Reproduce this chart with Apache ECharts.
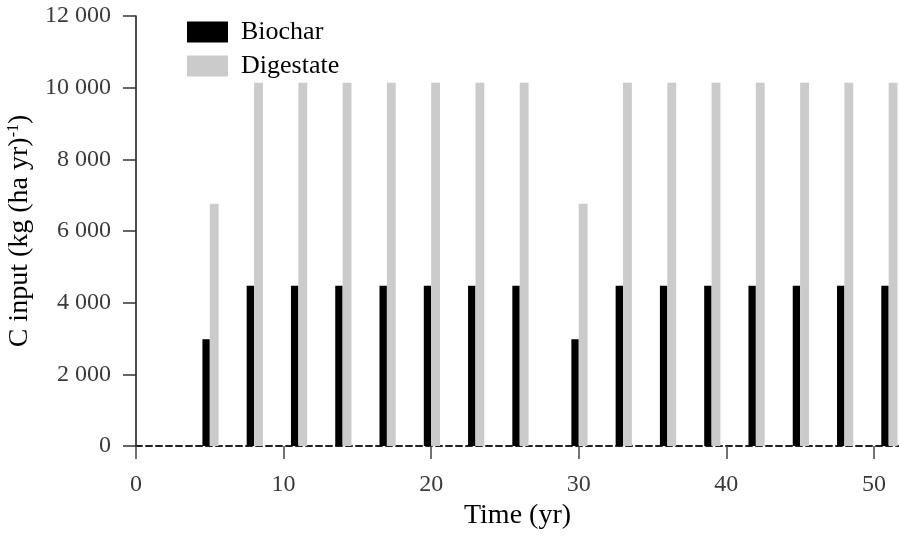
<!DOCTYPE html>
<html lang="en">
<head>
    <meta charset="UTF-8">
    <title>C input</title>
    <style>
        html, body { margin: 0; padding: 0; background: #fff; }
        #chart { width: 899px; height: 536px; }
    </style>
    <script src="https://cdn.jsdelivr.net/npm/echarts@6/dist/echarts.min.js"></script>
</head>
<body>
<div id="chart"></div>
<script>
    // 数据
    var years = [5, 8, 11, 14, 17, 20, 23, 26, 30, 33, 36, 39, 42, 45, 48, 51];
    var biochar = [2980, 4470, 4470, 4470, 4470, 4470, 4470, 4470,
                   2980, 4470, 4470, 4470, 4470, 4470, 4470, 4470];
    var digestate = [6760, 10140, 10140, 10140, 10140, 10140, 10140, 10140,
                     6760, 10140, 10140, 10140, 10140, 10140, 10140, 10140];
    var xTicks = [0, 10, 20, 30, 40, 50];

    var biocharData = [];
    var digestateData = [];
    for (var i = 0; i < years.length; i++) {
        biocharData.push([years[i], biochar[i]]);
        digestateData.push([years[i], digestate[i]]);
    }

    // 柱子：从 x+offset 到 x+offset+width（单位：年）
    function barItem(offset, width) {
        return function (params, api) {
            var x = api.value(0), v = api.value(1);
            var p1 = api.coord([x + offset, v]);
            var p2 = api.coord([x + offset + width, 0]);
            return {
                type: 'rect',
                shape: { x: p1[0], y: p1[1], width: p2[0] - p1[0], height: p2[1] - p1[1] },
                style: { fill: api.visual('color') }
            };
        };
    }

    function fmtY(v) {
        if (v < 1000) return String(v);
        var k = Math.floor(v / 1000), r = String(v % 1000);
        while (r.length < 3) r = '0' + r;
        return k + ' ' + r;
    }

    var font = 'Liberation Serif';
    var chart = echarts.init(document.getElementById('chart'));
    var option = {
        animation: false,
        textStyle: { fontFamily: font },
        grid: { left: 136, right: 0, top: 16, bottom: 90, containLabel: false, outerBoundsMode: 'none' },
        legend: {
            orient: 'vertical',
            left: 187,
            top: 19,
            padding: 0,
            itemWidth: 41,
            itemHeight: 21,
            itemGap: 8,
            textStyle: { fontFamily: font, fontSize: 26, color: '#000', padding: [0, 0, 0, 8] },
            data: [{ name: 'Biochar', icon: 'rect' }, { name: 'Digestate', icon: 'rect' }]
        },
        xAxis: {
            type: 'value',
            min: 0,
            max: 51.7,
            name: 'Time (yr)',
            nameLocation: 'middle',
            nameGap: 56,
            nameTextStyle: { fontFamily: font, fontSize: 28, color: '#000' },
            splitLine: { show: false },
            axisLine: { onZero: true, lineStyle: { type: [6, 4], color: '#222', width: 2 } },
            axisTick: { length: 13, customValues: xTicks, lineStyle: { color: '#444', width: 1.5 } },
            axisLabel: { customValues: xTicks, margin: 27, fontFamily: font, fontSize: 24, color: '#3a3a3a' }
        },
        yAxis: {
            type: 'value',
            min: 0,
            max: 12000,
            interval: 2000,
            name: 'C input (kg (ha yr){sup|-1})',
            nameLocation: 'middle',
            nameGap: 101,
            nameTextStyle: {
                fontFamily: font, fontSize: 28, color: '#000',
                rich: { sup: { fontFamily: font, fontSize: 16, verticalAlign: 'top', padding: [0, 0, 10, 0] } }
            },
            splitLine: { show: false },
            axisLine: { show: true, lineStyle: { color: '#111', width: 1.5 } },
            axisTick: { length: 13, lineStyle: { color: '#333', width: 1.5 } },
            axisLabel: { margin: 25, fontFamily: font, fontSize: 24, color: '#3a3a3a', formatter: fmtY }
        },
        series: [
            {
                name: 'Biochar',
                type: 'custom',
                itemStyle: { color: '#000' },
                renderItem: barItem(-0.5, 0.5),
                encode: { x: 0, y: 1 },
                data: biocharData
            },
            {
                name: 'Digestate',
                type: 'custom',
                itemStyle: { color: '#cbcbcb' },
                renderItem: barItem(0, 0.6),
                encode: { x: 0, y: 1 },
                data: digestateData
            }
        ]
    };
    chart.setOption(option);
</script>
</body>
</html>
